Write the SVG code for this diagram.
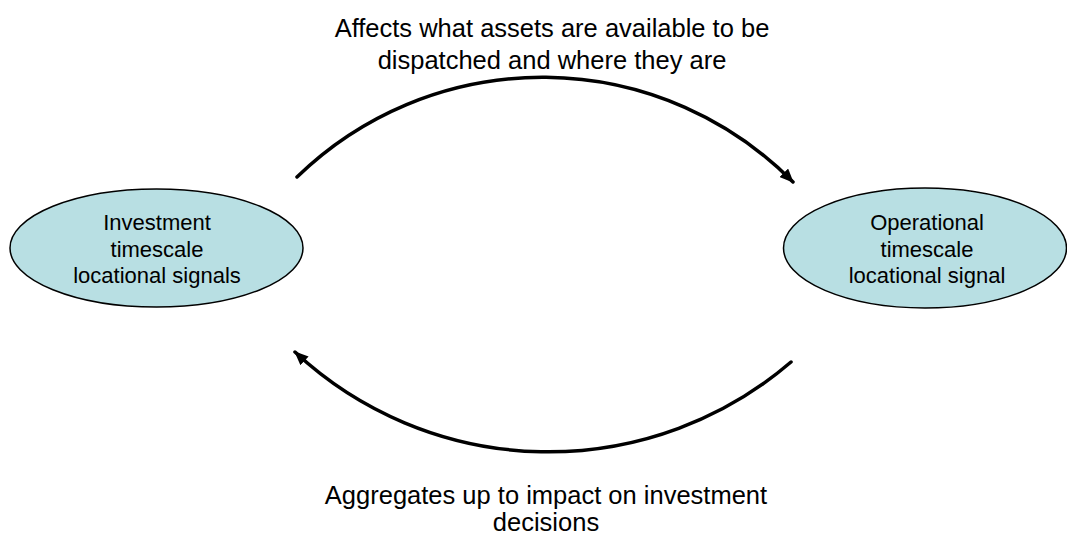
<svg xmlns="http://www.w3.org/2000/svg" width="1067" height="536" viewBox="0 0 1067 536">
<style>
.node{fill:#B8DFE3;stroke:#000;stroke-width:1.5}
.nt{font-family:"Liberation Sans",Arial,sans-serif;font-size:22px;fill:#000;text-anchor:middle}
.lb{font-family:"Liberation Sans",Arial,sans-serif;font-size:25.5px;fill:#000;text-anchor:middle}
.arc{fill:none;stroke:#000;stroke-width:3.5;stroke-linecap:round}
</style>
<defs>
<marker id="ah" markerWidth="14" markerHeight="12" refX="13" refY="6" orient="auto" markerUnits="userSpaceOnUse">
<path d="M0,0 L14,6 L0,12 Z" fill="#000"/>
</marker>
</defs>
<rect width="1067" height="536" fill="#fff"/>
<g id="connectors">
<path class="arc" d="M297,177 A352,352 0 0 1 793,182" marker-end="url(#ah)"/>
<path class="arc" d="M791,362 A372,372 0 0 1 295,352" marker-end="url(#ah)"/>
</g>
<g id="investment">
<ellipse class="node" cx="156.5" cy="248" rx="146.5" ry="59"/>
<text class="nt" x="157" y="230">Investment</text>
<text class="nt" x="157" y="257">timescale</text>
<text class="nt" x="157" y="283">locational signals</text>
</g>
<g id="operational">
<ellipse class="node" cx="925" cy="248" rx="141.5" ry="60"/>
<text class="nt" x="927" y="230">Operational</text>
<text class="nt" x="927" y="257">timescale</text>
<text class="nt" x="927" y="283">locational signal</text>
</g>
<g id="label-top">
<text class="lb" x="552" y="37">Affects what assets are available to be</text>
<text class="lb" x="552" y="69">dispatched and where they are</text>
</g>
<g id="label-bottom">
<text class="lb" x="546" y="504">Aggregates up to impact on investment</text>
<text class="lb" x="546" y="531">decisions</text>
</g>
</svg>
